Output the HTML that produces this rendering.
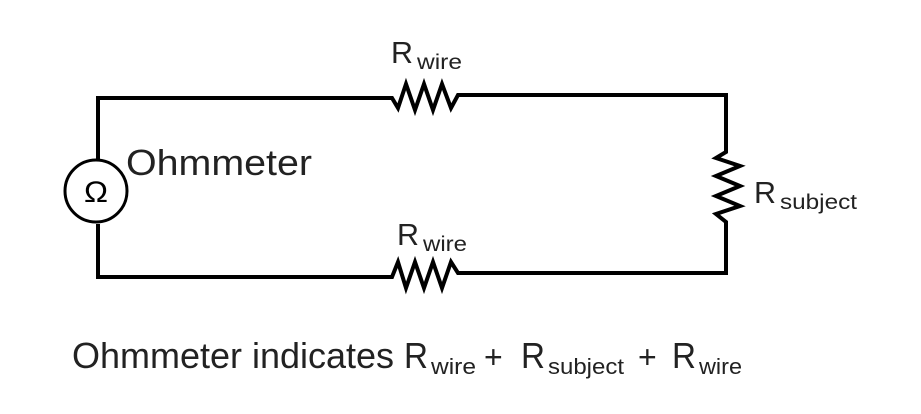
<!DOCTYPE html>
<html><head><meta charset="utf-8"><style>html,body{margin:0;padding:0;background:#fff}</style></head>
<body>
<svg width="921" height="409" viewBox="0 0 921 409" xmlns="http://www.w3.org/2000/svg" font-family="Liberation Sans, sans-serif" fill="#222">
<g fill="none" stroke="#000" stroke-width="4" stroke-linejoin="miter">
<polyline points="98,160 98,98 392,98 398,108 406,84 415,110 424,84 433,110 442,84 451,108 458,95 726,95 726,152 716,158 740,166 716,176 740,186 716,196 740,206 716,214 726,222 726,273 458,273 451,262 442,288 433,262 424,288 415,262 406,288 398,262 392,277 98,277 98,224"/>
<circle cx="96" cy="191" r="31" stroke-width="3"/>
</g>
<text x="96" y="202" font-size="30" text-anchor="middle" fill="#000" textLength="24" lengthAdjust="spacingAndGlyphs">Ω</text>
<text x="126" y="175" font-size="36" textLength="186" lengthAdjust="spacingAndGlyphs">Ohmmeter</text>
<text x="391" y="63" font-size="31" textLength="22" lengthAdjust="spacingAndGlyphs">R</text><text x="417" y="69" font-size="21" textLength="45" lengthAdjust="spacingAndGlyphs">wire</text>
<text x="397" y="245" font-size="31" textLength="22" lengthAdjust="spacingAndGlyphs">R</text><text x="423" y="251" font-size="21" textLength="44" lengthAdjust="spacingAndGlyphs">wire</text>
<text x="754" y="203" font-size="31" textLength="22" lengthAdjust="spacingAndGlyphs">R</text><text x="780" y="209" font-size="21" textLength="77" lengthAdjust="spacingAndGlyphs">subject</text>
<text x="72" y="368" font-size="36" textLength="322" lengthAdjust="spacingAndGlyphs">Ohmmeter indicates</text>
<text x="404" y="368" font-size="36" textLength="24" lengthAdjust="spacingAndGlyphs">R</text><text x="431" y="374" font-size="22" textLength="45" lengthAdjust="spacingAndGlyphs">wire</text>
<text x="484" y="368" font-size="32">+</text>
<text x="521" y="368" font-size="36" textLength="24" lengthAdjust="spacingAndGlyphs">R</text><text x="548" y="374" font-size="22" textLength="76" lengthAdjust="spacingAndGlyphs">subject</text>
<text x="638" y="368" font-size="32">+</text>
<text x="672" y="368" font-size="36" textLength="24" lengthAdjust="spacingAndGlyphs">R</text><text x="699" y="374" font-size="22" textLength="43" lengthAdjust="spacingAndGlyphs">wire</text>
</svg>
</body></html>
